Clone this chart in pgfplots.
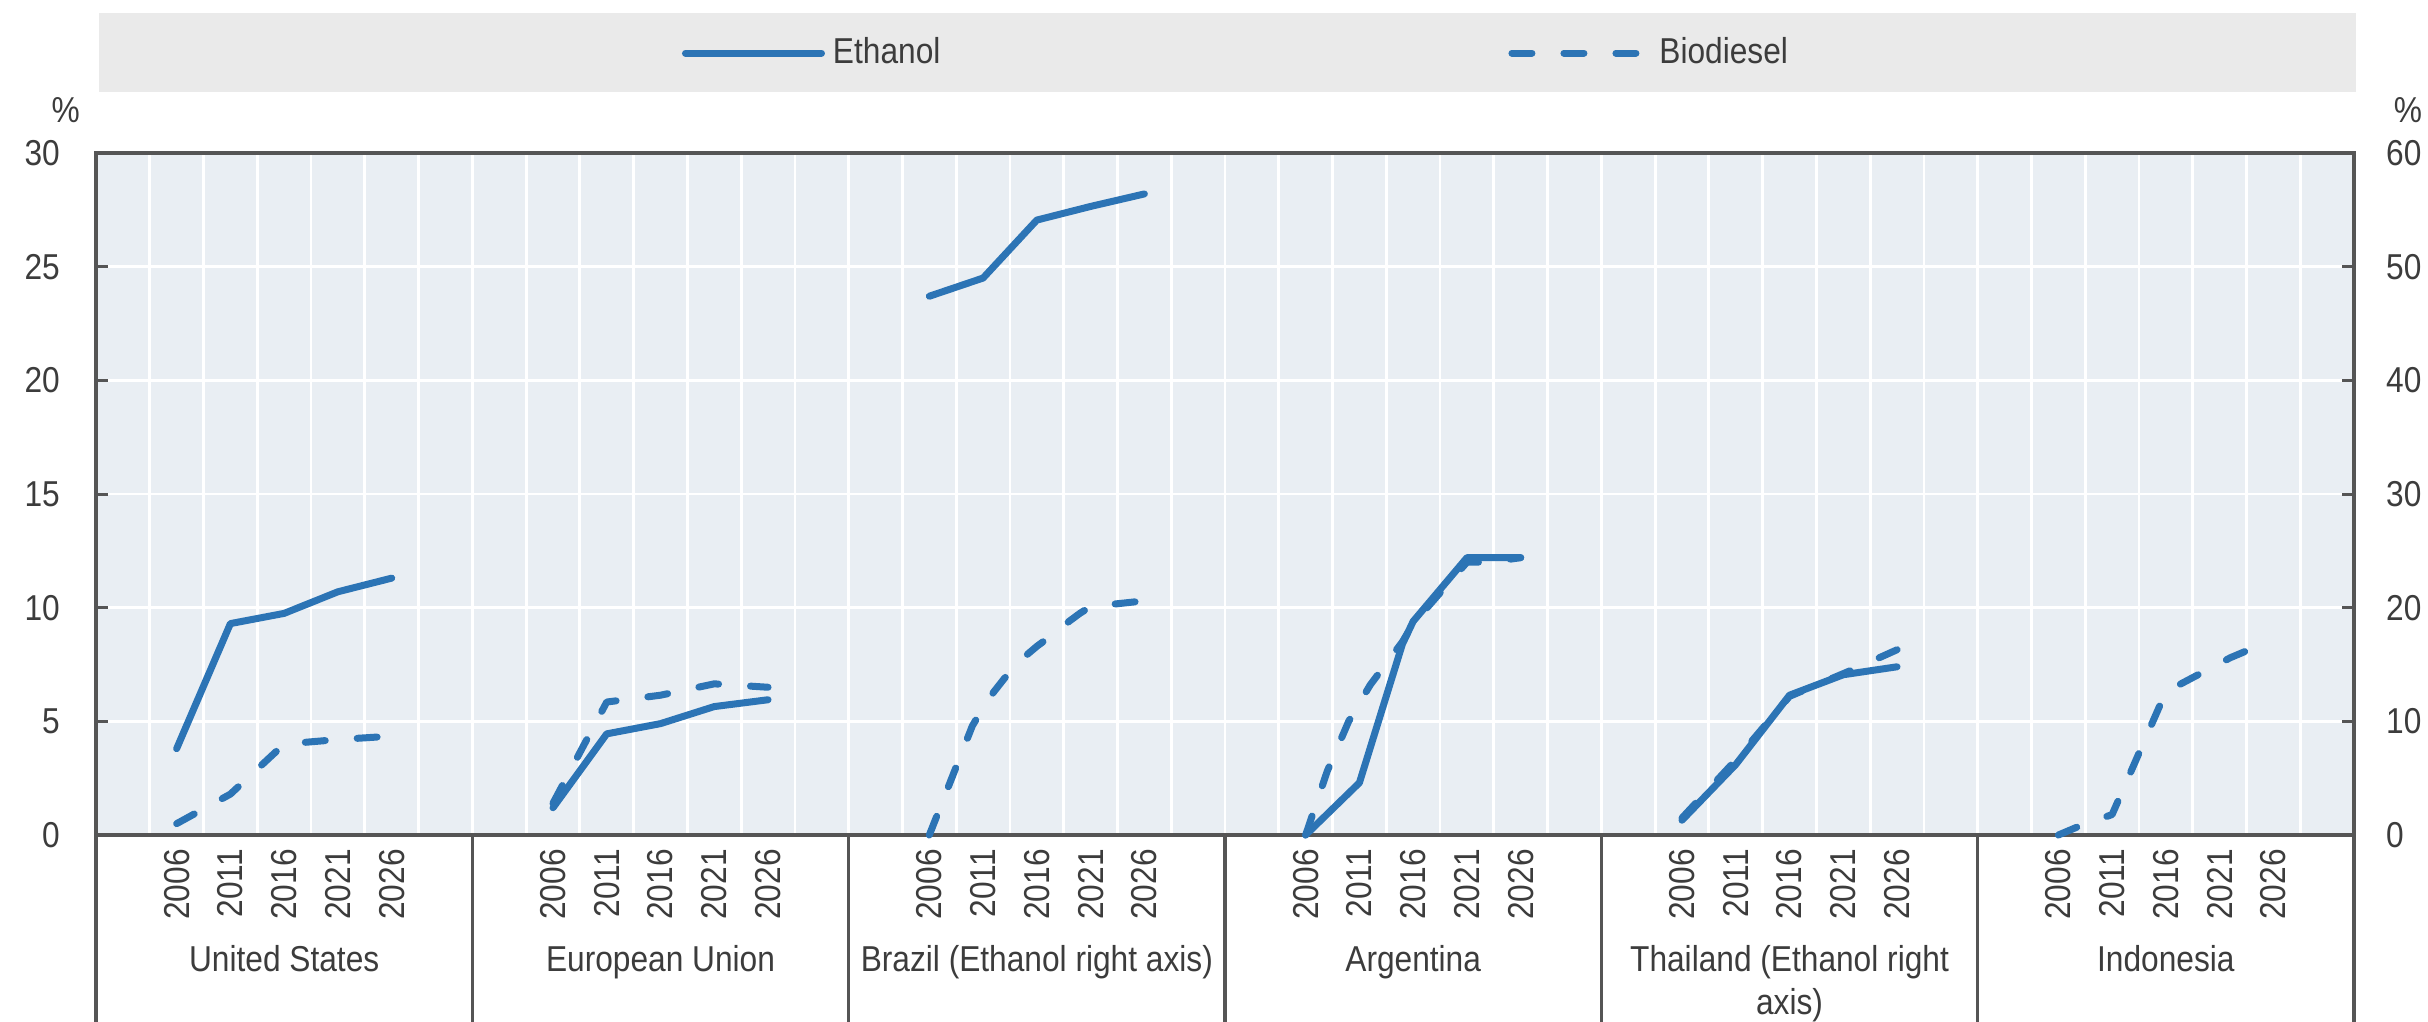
\documentclass[border=0pt]{standalone}
\usepackage{fontspec}
\setmainfont{Liberation Sans}[FakeStretch=0.88]
\usepackage{pgfplots}
\pgfplotsset{compat=1.18}
\definecolor{lineblue}{RGB}{44,116,181}
\definecolor{bgcol}{RGB}{233,238,243}
\definecolor{bandgray}{RGB}{234,234,234}
\definecolor{framegray}{RGB}{85,85,85}
\definecolor{txtgray}{RGB}{60,60,60}
\pgfplotsset{
  eth/.style={lineblue, line width=1.75pt, line cap=round, line join=round},
  bio/.style={eth, dash pattern=on 5pt off 8pt},
  common/.style={
    at={(0pt,0pt)}, anchor=south west,
    width=564.5pt, height=170.5pt, scale only axis,
    xmin=0, xmax=210, clip=false,
    axis line style={draw=framegray, line width=1pt},
    tick align=inside, major tick length=3pt,
    tick style={framegray, line width=0.75pt},
    tick label style={font=\fontsize{9}{10}\selectfont, text=txtgray},
    /pgf/number format/assume math mode=true,
  },
}
\begin{document}
\begin{tikzpicture}
\useasboundingbox (-24pt,-46.5pt) rectangle (583pt,208.75pt);
\fill[bandgray] (0.75pt,185.75pt) rectangle (565pt,205.5pt);
\begin{axis}[common,
  ymin=0, ymax=30,
  axis background/.style={fill=bgcol},
  ytick={0,5,...,30}, ytick pos=left,
  yticklabel style={xshift=-5.5pt},
  ymajorgrids,
  major grid style={white, line width=0.7pt},
  minor grid style={white, line width=0.7pt},
  minor xtick={0,5,...,210}, xminorgrids, minor tick length=0pt,
  xtick pos=bottom, xtick style={draw=none},
  xtick={7.5,12.5,17.5,22.5,27.5, 42.5,47.5,52.5,57.5,62.5, 77.5,82.5,87.5,92.5,97.5, 112.5,117.5,122.5,127.5,132.5, 147.5,152.5,157.5,162.5,167.5, 182.5,187.5,192.5,197.5,202.5},
  xticklabels={2006,2011,2016,2021,2026, 2006,2011,2016,2021,2026, 2006,2011,2016,2021,2026, 2006,2011,2016,2021,2026, 2006,2011,2016,2021,2026, 2006,2011,2016,2021,2026},
  xticklabel style={rotate=90, anchor=east},
  legend style={at={(0.5062,1.1466)}, anchor=center, draw=none, fill=none,
    legend columns=2, font=\fontsize{9}{10}\selectfont, text=txtgray,
    /tikz/every even column/.append style={column sep=140pt}},
  legend image code/.code={\draw[#1] (0pt,0pt) -- (34pt,0pt);},
]
% United States
\addplot[eth] coordinates {(7.5,3.8) (12.5,9.3) (17.5,9.75) (22.5,10.7) (27.5,11.3)};
\addlegendentry{Ethanol}
\addplot[bio] coordinates {(7.5,0.5) (12.5,1.8) (17.5,4.0) (22.5,4.2) (27.5,4.35)};
\addlegendentry{Biodiesel}
% European Union
\addplot[eth, forget plot] coordinates {(42.5,1.2) (47.5,4.45) (52.5,4.9) (57.5,5.65) (62.5,5.95)};
\addplot[bio, forget plot] coordinates {(42.5,1.4) (47.5,5.85) (52.5,6.15) (57.5,6.65) (62.5,6.5)};
% Brazil biodiesel (left axis)
\addplot[bio, forget plot] coordinates {(77.5,0) (78.5,1.2) (79.5,2.4) (80.5,3.6) (81.5,4.8) (82.5,5.6) (83.5,6.3) (84.5,6.9) (85.5,7.4) (86.5,7.9) (87.5,8.3) (88.5,8.65) (89.5,9.0) (90.5,9.4) (91.5,9.75) (92.5,10.05) (93.5,10.12) (94.5,10.15) (95.5,10.2) (96.5,10.25) (97.5,10.3)};
% Argentina
\addplot[eth, forget plot] coordinates {(112.5,0) (117.5,2.3) (121.5,8.4) (122.5,9.4) (127.5,12.2) (132.5,12.2)};
\addplot[bio, forget plot] coordinates {(112.5,0) (114.5,2.8) (116.5,5.0) (118.5,6.6) (121.5,8.5) (122.5,9.3) (127.5,12.0) (129.5,12.0) (132.5,12.2)};
% Thailand biodiesel (left axis)
\addplot[bio, forget plot] coordinates {(147.5,0.75) (152.5,3.3) (157.5,6.1) (162.5,7.1) (163.5,7.3) (167.5,8.15)};
% Indonesia biodiesel
\addplot[bio, forget plot] coordinates {(182.5,0) (184.5,0.4) (187.5,0.9) (192.5,6.3) (194.5,6.8) (196.5,7.3) (198.5,7.8) (200.5,8.2) (202.5,8.55)};
% group separators below the axis
\pgfplotsinvokeforeach{0,35,70,105,140,175,210}{
  \draw[framegray, line width=0.8pt] (axis cs:#1,0) -- ++(0pt,-48pt);
}
% country names
\tikzset{clab/.style={anchor=north, inner sep=0pt, font=\fontsize{9}{10.75}\selectfont, text=txtgray, align=center}}
\node[clab] at ([yshift=-27.3pt]axis cs:17.5,0) {United States};
\node[clab] at ([yshift=-27.3pt]axis cs:52.5,0) {European Union};
\node[clab] at ([yshift=-27.3pt]axis cs:87.5,0) {Brazil (Ethanol right axis)};
\node[clab] at ([yshift=-27.3pt]axis cs:122.5,0) {Argentina};
\node[clab] at ([yshift=-27.3pt]axis cs:157.5,0) {Thailand (Ethanol right\\axis)};
\node[clab] at ([yshift=-27.3pt]axis cs:192.5,0) {Indonesia};
\end{axis}
\begin{axis}[common,
  ymin=0, ymax=60,
  hide x axis,
  ytick={0,10,...,60}, ytick pos=right, yticklabel pos=right,
  yticklabel style={xshift=4.5pt},
]
% Brazil ethanol (right axis)
\addplot[eth] coordinates {(77.5,47.4) (82.5,49.0) (87.5,54.1) (92.5,55.3) (97.5,56.4)};
% Thailand ethanol (right axis)
\addplot[eth] coordinates {(147.5,1.3) (152.5,6.2) (157.5,12.3) (162.5,14.1) (167.5,14.8)};
\end{axis}
\node[font=\fontsize{9}{10}\selectfont, text=txtgray] at (-7.6pt,181.25pt) {\%};
\node[font=\fontsize{9}{10}\selectfont, text=txtgray] at (578pt,181.25pt) {\%};
\end{tikzpicture}
\end{document}
